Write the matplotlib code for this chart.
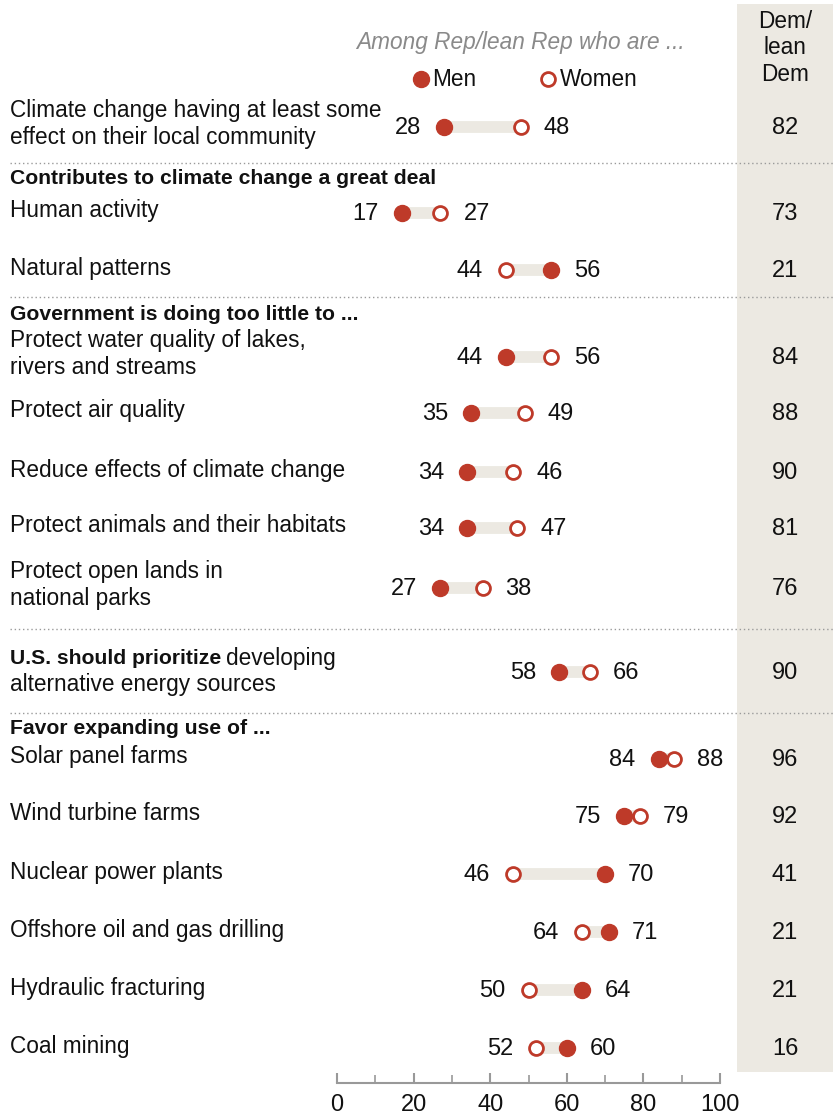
import matplotlib
matplotlib.use("Agg")
import matplotlib.pyplot as plt
from matplotlib.patches import Rectangle

# ---- data ----
labels = [
    "Climate change having at least some\neffect on their local community",
    "Human activity",
    "Natural patterns",
    "Protect water quality of lakes,\nrivers and streams",
    "Protect air quality",
    "Reduce effects of climate change",
    "Protect animals and their habitats",
    "Protect open lands in\nnational parks",
    "developing\nalternative energy sources",
    "Solar panel farms",
    "Wind turbine farms",
    "Nuclear power plants",
    "Offshore oil and gas drilling",
    "Hydraulic fracturing",
    "Coal mining",
]
men = [28, 17, 56, 44, 35, 34, 34, 27, 58, 84, 75, 70, 71, 64, 60]
women = [48, 27, 44, 56, 49, 46, 47, 38, 66, 88, 79, 46, 64, 50, 52]
dem = [82, 73, 21, 84, 88, 90, 81, 76, 90, 96, 92, 41, 21, 21, 16]
section_headers = ["Contributes to climate change a great deal",
                   "Government is doing too little to ...",
                   "Favor expanding use of ..."]
bold_prefix = "U.S. should prioritize"
ticks = [0, 20, 40, 60, 80, 100]

# ---- layout (pixel rows) ----
W, H = 833, 1118
row_y = [127, 213, 270, 357, 413, 472, 528, 588, 672, 759, 816, 874, 932, 990, 1048]
header_y = [179, 315, 728]
sep_y = [163, 297, 629, 713]
X0, X100 = 337, 720
AXIS_Y = 1083

RED = "#BE3A29"
BAR = "#ECE9E2"
BEIGE = "#ECE9E2"
FONT = "Liberation Sans"
FS = 16.3      # regular labels
FSN = 17       # numbers
FSB = 15.2     # bold headers

plt.rcParams['font.family'] = [FONT, 'DejaVu Sans']

fig = plt.figure(figsize=(W / 100, H / 100), dpi=100)
ax = fig.add_axes([X0 / W, (H - AXIS_Y) / H, (X100 - X0) / W, AXIS_Y / H])
ax.set_xlim(0, 100)
ax.set_ylim(AXIS_Y, 0)


def px(p):
    return (p - X0) / (X100 - X0) * 100


# beige column
ax.add_patch(Rectangle((px(737), 4), px(W) - px(737), 1068, facecolor=BEIGE,
                       edgecolor='none', zorder=0, clip_on=False))

# separators
for y in sep_y:
    ax.plot([px(10), px(W)], [y, y], color="#9a9a9a", lw=1, linestyle=(0, (1, 2)),
            clip_on=False, zorder=1)

# rows
gap = 23 / (X100 - X0) * 100
for i, (lab, m, w, d, y) in enumerate(zip(labels, men, women, dem, row_y)):
    lo, hi = min(m, w), max(m, w)
    ax.plot([lo, hi], [y, y], color=BAR, lw=8.5, solid_capstyle='butt', zorder=2)
    ax.plot([m], [y], marker='o', ms=11.5, color=RED, mec=RED, zorder=4, clip_on=False)
    ax.plot([w], [y], marker='o', ms=10, mfc='white', mec=RED, mew=2, zorder=4,
            clip_on=False)
    ax.text(lo - gap, y + 1, str(lo), ha='right', va='center', fontsize=FSN, color='#111')
    ax.text(hi + gap, y + 1, str(hi), ha='left', va='center', fontsize=FSN, color='#111')
    ax.text(px(785), y + 1, str(d), ha='center', va='center', fontsize=FSN, color='#111')
    if lab.startswith("developing"):
        continue
    ty = y - 3 if "\n" in lab else y - 2
    ax.text(px(10), ty, lab, ha='left', va='center', fontsize=FS, color='#111',
            linespacing=1.2)

# mixed weight label
i = 8
y = row_y[i]
t1 = ax.text(px(10), y - 13, bold_prefix, ha='left', va='center', fontsize=FSB,
             fontweight='bold', color='#111')
fig.canvas.draw()
bb = t1.get_window_extent()
xend = bb.x1
ax.text(px(xend + 5), y - 13, "developing", ha='left', va='center', fontsize=FS,
        color='#111')
ax.text(px(10), y + 12, "alternative energy sources", ha='left', va='center',
        fontsize=FS, color='#111')

for h, y in zip(section_headers, header_y):
    ax.text(px(10), y, h, ha='left', va='center', fontsize=FSB, fontweight='bold',
            color='#111')

# legend / header texts
ax.text(px(520), 42, "Among Rep/lean Rep who are ...", ha='center', va='center',
        fontsize=FS, style='italic', color='#8a8a8a')
ax.plot([px(421)], [79], marker='o', ms=11.5, color=RED, clip_on=False)
ax.text(px(432), 80, "Men", ha='left', va='center', fontsize=FS, color='#111')
ax.plot([px(548)], [79], marker='o', ms=10, mfc='white', mec=RED, mew=2, clip_on=False)
ax.text(px(560), 80, "Women", ha='left', va='center', fontsize=FS, color='#111')
ax.text(px(785), 48, "Dem/\nlean\nDem", ha='center', va='center', fontsize=FS,
        color='#111', linespacing=1.17)

# axis
for s in ['top', 'left', 'right']:
    ax.spines[s].set_visible(False)
ax.spines['bottom'].set_color('#999999')
ax.spines['bottom'].set_linewidth(1.5)
ax.set_yticks([])
ax.set_xticks(ticks)
ax.set_xticklabels([str(t) for t in ticks], fontsize=FSN, color='#111')
ax.set_xticks(list(range(10, 100, 20)), minor=True)
ax.tick_params(axis='x', which='major', direction='in', length=7, width=1.5,
               color='#999999', pad=8)
ax.tick_params(axis='x', which='minor', direction='in', length=6, width=1.2,
               color='#999999')
ax.patch.set_alpha(0)

fig.savefig("out.png", dpi=100)
